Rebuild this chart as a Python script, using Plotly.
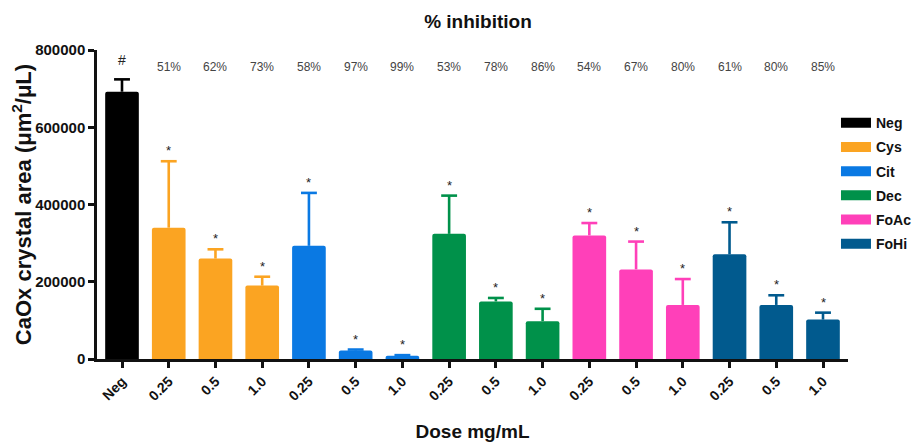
import plotly.graph_objects as go

# ---- data ----
tick_labels = ["Neg", "0.25", "0.5", "1.0", "0.25", "0.5", "1.0", "0.25", "0.5", "1.0",
               "0.25", "0.5", "1.0", "0.25", "0.5", "1.0"]
groups = ["Neg", "Cys", "Cit", "Dec", "FoAc", "FoHi"]
group_colors = ["#000000", "#FBA422", "#0A79E3", "#00914A", "#FF40B9", "#015A8E"]

neg_mean = [692000]
neg_top = [724000]
cys_mean = [340000, 260000, 190000]
cys_top = [512000, 284000, 213000]
cit_mean = [293000, 22000, 8500]
cit_top = [430000, 24500, 10000]
dec_mean = [324000, 149000, 98000]
dec_top = [423000, 158000, 130000]
foac_mean = [320000, 232000, 140000]
foac_top = [352000, 304000, 207000]
fohi_mean = [271000, 140000, 102000]
fohi_top = [354000, 165000, 120000]

inhibition = ["51%", "62%", "73%", "58%", "97%", "99%", "53%", "78%", "86%",
              "54%", "67%", "80%", "61%", "80%", "85%"]
signif = ["#", "*", "*", "*", "*", "*", "*", "*", "*", "*", "*", "*", "*", "*", "*", "*"]

means = [neg_mean, cys_mean, cit_mean, dec_mean, foac_mean, fohi_mean]
tops = [neg_top, cys_top, cit_top, dec_top, foac_top, fohi_top]

FONT = "Liberation Sans, Arial, sans-serif"
CAP = 0.17  # half-width of error-bar cap in category units

# the page adds an 8px body margin, so the figure is sized 8px smaller
W, H = 913, 434

fig = go.Figure()
pos = 0
all_tops = []
for gi, (name, color, m, t) in enumerate(zip(groups, group_colors, means, tops)):
    xs = list(range(pos, pos + len(m)))
    pos += len(m)
    all_tops += t
    ex, ey = [], []
    for x, mm, tt in zip(xs, m, t):
        ex += [x, x, None, x - CAP, x + CAP, None]
        ey += [mm, tt, None, tt, tt, None]
    fig.add_trace(go.Scatter(x=ex, y=ey, mode="lines", line=dict(color=color, width=2.6),
                             showlegend=False, hoverinfo="skip"))
    fig.add_trace(go.Bar(x=xs, y=m, name=name, showlegend=False,
                         marker=dict(color=color, line=dict(width=0)), width=0.72))
    # legend entry (wide swatch)
    fig.add_trace(go.Scatter(x=[None], y=[None], mode="lines", name="<b>%s</b>" % name,
                             line=dict(color=color, width=12), legendgroup=name))

for i, (s, t) in enumerate(zip(signif, all_tops)):
    fig.add_annotation(x=i, y=t, text=s, showarrow=False, yanchor="bottom",
                       yshift=9 if s == "#" else 1,
                       font=dict(family=FONT, size=14 if s == "#" else 13, color="#222"))

for i, p in enumerate(inhibition):
    fig.add_annotation(x=i + 1, y=755000, text=p, showarrow=False,
                       font=dict(family=FONT, size=12, color="#444"))

fig.update_layout(
    width=W, height=H,
    margin=dict(l=89, r=73, t=42, b=83, autoexpand=False),
    plot_bgcolor="white", paper_bgcolor="white",
    barcornerradius=2,
    showlegend=True,
    title=dict(text="<b>% inhibition</b>", x=470 / W, xanchor="center", y=1 - 13 / H,
               yanchor="middle", font=dict(family=FONT, size=19, color="#111")),
    legend=dict(x=0.984, xanchor="left", y=0.815, yanchor="top",
                font=dict(family=FONT, size=14, color="#111"),
                traceorder="grouped", tracegroupgap=3,
                bgcolor="rgba(0,0,0,0)"),
    font=dict(family=FONT, color="#111"),
)
fig.update_xaxes(
    range=[-0.535, 15.535], automargin=False,
    tickmode="array", tickvals=list(range(len(tick_labels))),
    ticktext=["<b>%s</b>" % t for t in tick_labels],
    tickangle=-45, ticks="outside", ticklen=6, tickwidth=2.5, tickcolor="#111",
    showline=True, linewidth=2.5, linecolor="#111", showgrid=False, zeroline=False,
    tickfont=dict(family=FONT, size=14, color="#111"),
    title=dict(text="<b>Dose mg/mL</b>", standoff=47,
               font=dict(family=FONT, size=19, color="#111")),
)
fig.update_yaxes(
    range=[0, 800000], automargin=False,
    tickmode="array", tickvals=[0, 200000, 400000, 600000, 800000],
    ticktext=["<b>0</b>", "<b>200000</b>", "<b>400000</b>", "<b>600000</b>", "<b>800000</b>"],
    ticks="outside", ticklen=6, tickwidth=2.5, tickcolor="#111",
    showline=True, linewidth=2.5, linecolor="#111", showgrid=False, zeroline=False,
    tickfont=dict(family=FONT, size=15, color="#111"),
    title=dict(text="<b>CaOx crystal area (μm<sup>2</sup>/μL)</b>", standoff=5,
               font=dict(family=FONT, size=22, color="#111")),
)

fig.write_html("out.html")
